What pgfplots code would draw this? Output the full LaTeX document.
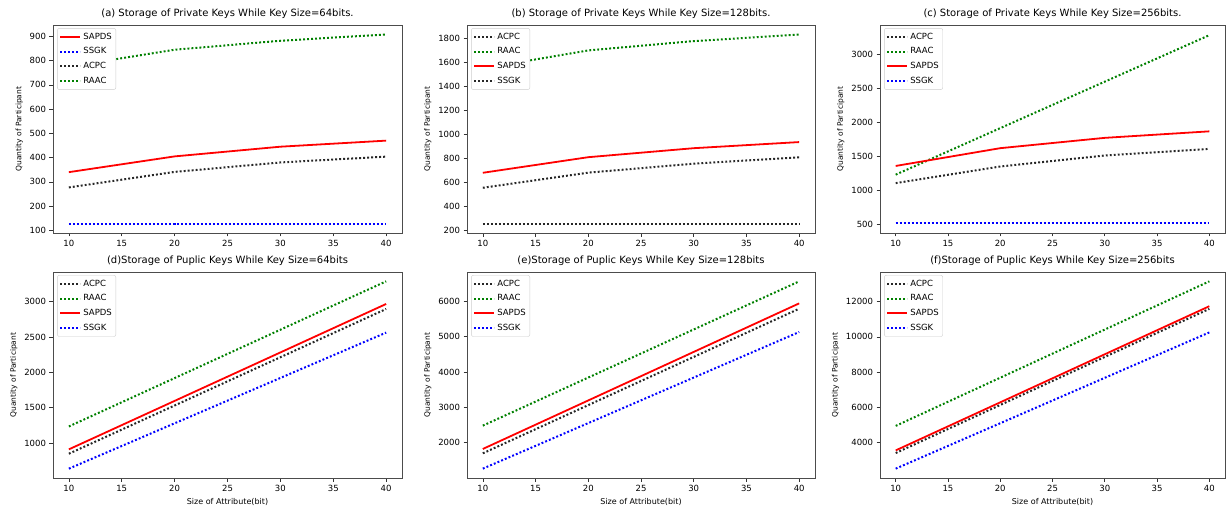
\documentclass[border=0pt]{standalone}
\usepackage{pgfplots}
\pgfplotsset{compat=1.18}
\usepackage{fontspec}
\setmainfont{DejaVu Sans}

\definecolor{mred}{rgb}{1,0,0}
\definecolor{mgreen}{rgb}{0,0.5,0}
\definecolor{mblue}{rgb}{0,0,1}

\pgfplotsset{
  legend image code/.code={\draw[#1] (0pt,0pt) -- (20pt,0pt);},
  panel/.style={
    scale only axis,
    anchor=south west,
    xmin=8.5, xmax=41.5,
    xtick={10,15,...,40},
    tick pos=left,
    tick align=outside,
    major tick length=3.5pt,
    tick style={black!80, line width=0.6pt},
    axis line style={black!70, line width=0.7pt},
    ticklabel style={font=\fontsize{8.5}{10}\selectfont},
    /pgf/number format/assume math mode=true,
    /pgf/number format/1000 sep={},
    scaled y ticks=false,
    title style={font=\fontsize{10}{12}\selectfont, yshift=-3pt},
    ylabel={Quantity of Participant},
    ylabel style={font=\fontsize{7.5}{9}\selectfont},
    xlabel style={font=\fontsize{8}{10}\selectfont},
    legend cell align=left,
    legend style={at={(0.012,0.985)}, anchor=north west, draw=black!20,
      rounded corners=2pt, font=\fontsize{8.5}{10}\selectfont,
      inner xsep=2pt, inner ysep=2.5pt, row sep=3pt},
  },
  sapds/.style={mred, line width=1.8pt},
  dk/.style={black!85, line width=2pt, dash pattern=on 1.9pt off 2.1pt},
  dg/.style={mgreen, line width=2pt, dash pattern=on 1.9pt off 2.1pt},
  db/.style={mblue, line width=2pt, dash pattern=on 1.9pt off 2.1pt},
}

\begin{document}
\begin{tikzpicture}
\useasboundingbox (0,0) rectangle (1230pt,509pt);

% (a)
\begin{axis}[panel, at={(53pt,276pt)}, width=349pt, height=208pt,
  ymin=89, ymax=947, ytick={100,200,...,900},
  title={(a) Storage of Private Keys While Key Size=64bits.}]
\addplot[sapds] coordinates {(10,340) (20,405) (30,445) (40,470)};
\addplot[db] coordinates {(10,128) (20,128) (30,128) (40,128)};
\addplot[dk] coordinates {(10,277) (20,341) (30,380) (40,404)};
\addplot[dg] coordinates {(10,775) (20,845) (30,882) (40,908)};
\legend{SAPDS,SSGK,ACPC,RAAC}
\end{axis}

% (b)
\begin{axis}[panel, at={(467pt,276pt)}, width=348pt, height=208pt,
  ymin=178, ymax=1912, ytick={200,400,...,1800},
  title={(b) Storage of Private Keys While Key Size=128bits.}]
\addplot[dk] coordinates {(10,555) (20,681) (30,756) (40,809)};
\addplot[dg] coordinates {(10,1550) (20,1700) (30,1778) (40,1833)};
\addplot[sapds] coordinates {(10,680) (20,810) (30,885) (40,936)};
\addplot[dk] coordinates {(10,256) (20,256) (30,256) (40,256)};
\legend{ACPC,RAAC,SAPDS,SSGK}
\end{axis}

% (c)
\begin{axis}[panel, at={(880pt,276pt)}, width=345pt, height=208pt,
  ymin=370, ymax=3435, ytick={500,1000,...,3000},
  title={(c) Storage of Private Keys While Key Size=256bits.}]
\addplot[dk] coordinates {(10,1105) (20,1350) (30,1512) (40,1610)};
\addplot[dg] coordinates {(10,1230) (20,1915) (30,2600) (40,3285)};
\addplot[sapds] coordinates {(10,1358) (20,1620) (30,1772) (40,1868)};
\addplot[db] coordinates {(10,512) (20,512) (30,512) (40,512)};
\legend{ACPC,RAAC,SAPDS,SSGK}
\end{axis}

% (d)
\begin{axis}[panel, at={(53pt,31pt)}, width=349pt, height=206pt,
  ymin=506, ymax=3419, ytick={1000,1500,...,3000},
  xlabel={Size of Attribute(bit)},
  title={(d)Storage of Puplic Keys While Key Size=64bits}]
\addplot[dk] coordinates {(10,849) (40,2896)};
\addplot[dg] coordinates {(10,1235) (40,3287)};
\addplot[sapds] coordinates {(10,911) (40,2967)};
\addplot[db] coordinates {(10,638) (40,2562)};
\legend{ACPC,RAAC,SAPDS,SSGK}
\end{axis}

% (e)
\begin{axis}[panel, at={(467pt,31pt)}, width=348pt, height=206pt,
  ymin=999, ymax=6831, ytick={2000,3000,...,6000},
  xlabel={Size of Attribute(bit)},
  title={(e)Storage of Puplic Keys While Key Size=128bits}]
\addplot[dk] coordinates {(10,1698) (40,5792)};
\addplot[dg] coordinates {(10,2481) (40,6566)};
\addplot[sapds] coordinates {(10,1821) (40,5943)};
\addplot[db] coordinates {(10,1264) (40,5132)};
\legend{ACPC,RAAC,SAPDS,SSGK}
\end{axis}

% (f)
\begin{axis}[panel, at={(880pt,31pt)}, width=345pt, height=206pt,
  ymin=1981, ymax=13680, ytick={4000,6000,...,12000},
  xlabel={Size of Attribute(bit)},
  title={(f)Storage of Puplic Keys While Key Size=256bits}]
\addplot[dk] coordinates {(10,3398) (40,11586)};
\addplot[dg] coordinates {(10,4941) (40,13148)};
\addplot[sapds] coordinates {(10,3548) (40,11737)};
\addplot[db] coordinates {(10,2513) (40,10249)};
\legend{ACPC,RAAC,SAPDS,SSGK}
\end{axis}
\end{tikzpicture}
\end{document}
